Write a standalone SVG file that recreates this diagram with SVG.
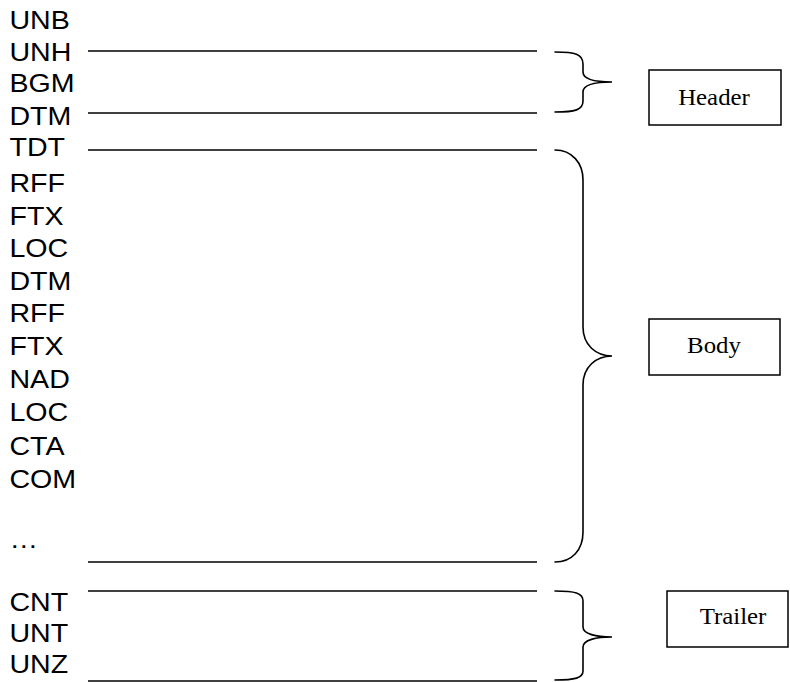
<svg xmlns="http://www.w3.org/2000/svg" width="790" height="682" viewBox="0 0 790 682">
<style>
.seg{font-family:"Liberation Sans",Arial,sans-serif;font-size:26px;fill:#000}
.lbl{font-family:"Liberation Serif","Times New Roman",serif;font-size:23px;fill:#000;text-anchor:middle}
.ln{stroke:#000;stroke-width:1.6;fill:none}
.br{stroke:#000;stroke-width:1.6;fill:none;stroke-linecap:round}
.box{stroke:#000;stroke-width:1.5;fill:#fff}
</style>
<rect width="790" height="682" fill="#fff"/>
<g id="segments" transform="scale(1.1 1)">
<text class="seg" x="8.6" y="29.5">UNB</text>
<text class="seg" x="8.6" y="61.5">UNH</text>
<text class="seg" x="8.6" y="92.5">BGM</text>
<text class="seg" x="8.6" y="125">DTM</text>
<text class="seg" x="8.6" y="156.5">TDT</text>
<text class="seg" x="8.6" y="192">RFF</text>
<text class="seg" x="8.6" y="225">FTX</text>
<text class="seg" x="8.6" y="257">LOC</text>
<text class="seg" x="8.6" y="290">DTM</text>
<text class="seg" x="8.6" y="322">RFF</text>
<text class="seg" x="8.6" y="355">FTX</text>
<text class="seg" x="8.6" y="388.5">NAD</text>
<text class="seg" x="8.6" y="421.5">LOC</text>
<text class="seg" x="8.6" y="455">CTA</text>
<text class="seg" x="8.6" y="488">COM</text>
<text class="seg" x="8.6" y="548">…</text>
<text class="seg" x="8.6" y="611">CNT</text>
<text class="seg" x="8.6" y="642">UNT</text>
<text class="seg" x="8.6" y="673">UNZ</text>
</g>
<g id="connectors">
<line class="ln" x1="88" y1="51" x2="537" y2="51"/>
<line class="ln" x1="88" y1="113" x2="537" y2="113"/>
<line class="ln" x1="88" y1="150" x2="537" y2="150"/>
<line class="ln" x1="88" y1="562" x2="537" y2="562"/>
<line class="ln" x1="88" y1="591" x2="537" y2="591"/>
<line class="ln" x1="88" y1="681" x2="537" y2="681"/>
<path class="br" d="M555,52 C575,52 583,54 583,64 L583,72 C583,80 596,82 612,82 C596,82 583,84 583,92 L583,101 C583,110 575,112 555,112"/>
<path class="br" d="M555,150 C572,150 583,163 583,180 L583,327 C583,345 596,356 612,356 C596,356 583,367 583,385 L583,532 C583,550 572,562 555,562"/>
<path class="br" d="M555,591 C575,591 583,593 583,601 L583,627 C583,634 596,637 612,637 C596,637 583,640 583,647 L583,671 C583,678 575,680 555,680"/>
</g>
<g id="header">
<rect class="box" x="649" y="70" width="132" height="55"/>
<text class="lbl" transform="translate(714 105) scale(1.08 1)">Header</text>
</g>
<g id="body">
<rect class="box" x="649" y="319" width="131" height="56"/>
<text class="lbl" transform="translate(714 353) scale(1.08 1)">Body</text>
</g>
<g id="trailer">
<rect class="box" x="667" y="591" width="121" height="56"/>
<text class="lbl" transform="translate(733 624) scale(1.08 1)">Trailer</text>
</g>
</svg>
